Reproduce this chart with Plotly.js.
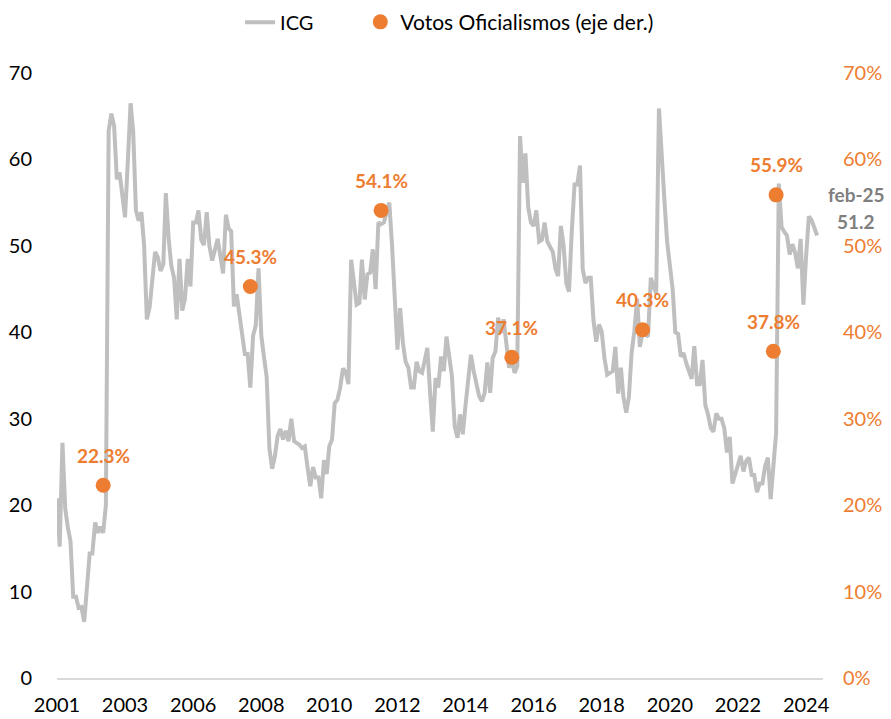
<!DOCTYPE html>
<html>
<head>
<meta charset="utf-8">
<script src="https://cdn.plot.ly/plotly-3.0.1.min.js"></script>
<style>
html,body{margin:0;padding:0;background:#fff;}
#chart{width:891px;height:719px;}
</style>
</head>
<body>
<div id="chart"></div>
<script>
// ICG monthly series, starting Nov 2001, ending Feb 2025
const startYear = 2001;
const startMonth = 11;
const icgValues = [
  20.8, 15.2, 27.2, 19.6, 17.5, 15.8, 9.4, 9.4, 8.1, 8.2,
  6.5, 10.3, 14.4, 14.4, 18.0, 16.8, 17.5, 16.8, 20.0, 63.3,
  65.3, 63.9, 57.7, 58.5, 55.8, 53.3, 59.7, 66.5, 63.3, 54.1,
  52.9, 53.9, 50.1, 41.5, 42.9, 46.1, 49.3, 48.7, 47.1, 47.9,
  56.1, 50.9, 47.7, 46.3, 41.5, 48.5, 42.5, 43.9, 48.5, 45.3,
  52.7, 52.7, 54.1, 50.7, 50.1, 53.9, 50.0, 48.3, 49.5, 50.8,
  48.8, 46.8, 53.6, 52.0, 51.7, 43.0, 44.4, 41.8, 39.8, 37.5,
  37.5, 33.6, 39.6, 40.8, 47.4, 39.6, 37.2, 34.8, 26.6, 24.2,
  25.6, 28.0, 28.8, 27.6, 28.6, 27.4, 30.0, 27.4, 27.2, 27.0,
  26.6, 26.8, 24.4, 22.2, 24.4, 23.2, 23.2, 20.8, 25.2, 23.6,
  26.8, 27.6, 31.8, 32.2, 33.6, 35.8, 35.4, 34.0, 48.4, 46.0,
  43.2, 43.4, 48.4, 43.8, 46.7, 46.9, 49.6, 45.0, 52.7, 52.5,
  52.7, 53.8, 55.0, 50.0, 44.0, 38.0, 42.8, 38.8, 36.6, 35.9,
  33.6, 33.6, 36.6, 35.5, 35.3, 37.0, 38.2, 33.0, 28.5, 34.7,
  33.6, 37.2, 35.5, 39.5, 37.0, 34.9, 29.1, 27.8, 30.5, 28.2,
  31.5, 35.0, 37.4, 35.5, 34.0, 32.6, 32.0, 33.0, 36.5, 33.0,
  37.0, 37.8, 41.7, 39.9, 41.5, 38.5, 35.9, 36.8, 35.3, 36.1,
  62.7, 57.3, 60.7, 54.5, 52.7, 52.3, 54.1, 50.5, 50.7, 52.7,
  50.5, 49.9, 49.3, 47.3, 46.5, 52.3, 50.1, 45.7, 44.7, 51.7,
  57.1, 57.1, 59.3, 47.3, 45.7, 46.3, 46.3, 41.3, 38.9, 40.9,
  40.1, 37.0, 35.1, 35.3, 35.5, 38.3, 32.9, 35.9, 32.5, 30.7,
  32.5, 37.7, 40.1, 43.9, 38.3, 40.0, 39.7, 39.5, 46.3, 45.5,
  44.5, 65.9, 59.7, 55.3, 50.5, 48.0, 45.0, 40.0, 39.8, 37.2,
  37.6, 36.4, 35.6, 34.6, 38.4, 34.0, 34.0, 36.8, 31.6, 30.5,
  28.9, 28.5, 30.6, 30.0, 30.0, 28.9, 26.1, 27.9, 22.5, 23.7,
  24.7, 25.7, 23.9, 25.1, 25.5, 23.5, 23.5, 21.5, 22.5, 22.5,
  24.5, 25.5, 20.7, 24.5, 28.3, 57.2, 52.2, 51.6, 51.2, 49.0,
  50.2, 49.2, 47.4, 50.8, 43.2, 48.8, 53.4, 53.0, 52.2, 51.2
];
const tickLabels = ['2001','2003','2006','2008','2010','2012','2014','2016','2018','2020','2022','2024'];
const tickEvery = 25;
const voteDates = ['2003-04-01','2007-10-01','2011-10-01','2015-10-01','2019-10-01','2023-10-01','2023-11-01'];
const voteValues = [22.3, 45.3, 54.1, 37.1, 40.3, 37.8, 55.9];
const monthAbbr = ['ene','feb','mar','abr','may','jun','jul','ago','sep','oct','nov','dic'];

const months = icgValues.map((v, i) => {
  const m0 = startMonth - 1 + i;
  const y = startYear + Math.floor(m0 / 12);
  const m = (m0 % 12) + 1;
  return y + '-' + String(m).padStart(2, '0') + '-01';
});
const tickvals = tickLabels.map((t, k) => months[k * tickEvery]);

const lastDate = months[months.length - 1];
const lastVal = icgValues[icgValues.length - 1];
const lastLabel = monthAbbr[parseInt(lastDate.slice(5, 7), 10) - 1] + '-' + lastDate.slice(2, 4);

const FONT = 'Lato, "Open Sans", sans-serif';
const ORANGE = '#ED7D31';
const GRAY = '#BFBFBF';

const traces = [
  {
    x: months, y: icgValues, type: 'scatter', mode: 'lines', name: 'ICG', legend: 'legend',
    line: {color: GRAY, width: 4}, hoverinfo: 'skip', cliponaxis: false
  },
  {
    x: voteDates, y: voteValues, type: 'scatter', mode: 'markers', name: 'Votos Oficialismos (eje der.)',
    legend: 'legend2',
    yaxis: 'y2', marker: {color: ORANGE, size: 15}, hoverinfo: 'skip', cliponaxis: false
  }
];

const annotations = voteDates.map((d, i) => ({
  x: d, y: voteValues[i], yref: 'y2', xref: 'x', showarrow: false,
  text: '<b>' + voteValues[i].toFixed(1) + '%</b>', yshift: 30,
  font: {family: FONT, size: 19, color: ORANGE}
}));
annotations.push({
  x: lastDate, y: lastVal, xref: 'x', yref: 'y', showarrow: false,
  text: '<b>' + lastLabel + '</b>', xshift: 39, yshift: 41,
  font: {family: FONT, size: 19, color: '#7F7F7F'}
});
annotations.push({
  x: lastDate, y: lastVal, xref: 'x', yref: 'y', showarrow: false,
  text: '<b>' + lastVal.toFixed(1) + '</b>', xshift: 39, yshift: 14,
  font: {family: FONT, size: 19, color: '#7F7F7F'}
});

const legendCommon = {
  orientation: 'h', xanchor: 'left', y: 1.084, yanchor: 'middle',
  font: {family: FONT, size: 20, color: '#000'}, bgcolor: 'rgba(0,0,0,0)'
};

const layout = {
  width: 891, height: 719,
  margin: {l: 57, r: 68, t: 73, b: 41, pad: 0, autoexpand: false},
  paper_bgcolor: '#fff', plot_bgcolor: '#fff',
  font: {family: FONT, size: 20, color: '#000'},
  showlegend: true,
  legend: Object.assign({}, legendCommon, {x: 0.239}),
  legend2: Object.assign({}, legendCommon, {x: 0.396, font: {family: FONT, size: 21, color: '#000'}}),
  xaxis: {
    type: 'date', range: ['2001-11-01', '2025-04-08'],
    tickmode: 'array', tickvals: tickvals, ticktext: tickLabels,
    showgrid: false, zeroline: false, showline: true, linecolor: '#D9D9D9', linewidth: 2,
    ticks: 'outside', ticklen: 8, tickcolor: 'rgba(0,0,0,0)',
    tickfont: {family: FONT, size: 20, color: '#000'}
  },
  yaxis: {
    range: [0, 70], dtick: 10, showgrid: false, zeroline: false, showline: false,
    ticks: 'outside', ticklen: 20, tickcolor: 'rgba(0,0,0,0)',
    tickfont: {family: FONT, size: 20, color: '#000'}
  },
  yaxis2: {
    range: [0, 70], dtick: 10, overlaying: 'y', side: 'right', ticksuffix: '%',
    showgrid: false, zeroline: false, showline: false,
    ticks: 'outside', ticklen: 15, tickcolor: 'rgba(0,0,0,0)',
    tickfont: {family: FONT, size: 20, color: ORANGE}
  },
  annotations: annotations
};

Plotly.newPlot('chart', traces, layout, {displayModeBar: false, staticPlot: true});
</script>
</body>
</html>
